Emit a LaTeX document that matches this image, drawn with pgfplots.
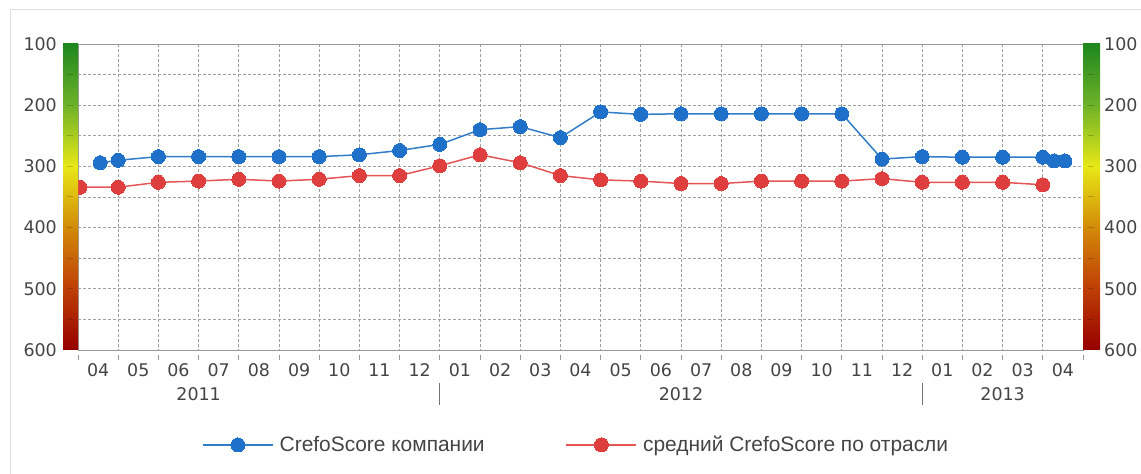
\documentclass[border=0pt]{standalone}
\usepackage{pgfplots}
\pgfplotsset{compat=1.18}
\usepackage{fontspec}
\setmainfont{Liberation Sans}
\newfontfamily\tickfont{DejaVu Sans}

\definecolor{txt}{RGB}{68,68,68}
\definecolor{blueS}{RGB}{30,112,200}
\definecolor{blueL}{RGB}{50,125,200}
\definecolor{redS}{RGB}{222,62,62}
\definecolor{redL}{RGB}{230,85,85}
\definecolor{c100}{RGB}{30,135,30}
\definecolor{c200}{RGB}{110,178,40}
\definecolor{c300}{RGB}{232,232,22}
\definecolor{c400}{RGB}{210,138,8}
\definecolor{c500}{RGB}{190,62,5}
\definecolor{c600}{RGB}{150,0,0}

% axis box: x 78..1083 bp, y 124..430 bp (from the bottom of the page)
\pgfplotsset{
  crefo/.style={
    at={(78bp,124bp)}, anchor=south west,
    scale only axis, width=1005bp, height=306bp,
    xmin=0, xmax=25, ymin=100, ymax=600, y dir=reverse,
    major tick length=0pt, minor tick length=0pt,
    tick label style={font=\tickfont\fontsize{17.5}{20}\selectfont, text=txt, inner sep=0pt},
    /pgf/number format/assume math mode=true,
  },
}

\begin{document}
\begin{tikzpicture}
\path[use as bounding box] (0,0) rectangle (1141bp,474bp);
\draw[gray!25, line width=1bp] (10bp,0) -- (10bp,464bp) -- (1141bp,464bp);

\begin{axis}[
  crefo, clip=false,
  axis line style={gray!80, line width=1bp},
  xtick={0.5,1.5,2.5,3.5,4.5,5.5,6.5,7.5,8.5,9.5,10.5,11.5,12.5,13.5,14.5,15.5,16.5,17.5,18.5,19.5,20.5,21.5,22.5,23.5,24.5},
  xticklabels={04,05,06,07,08,09,10,11,12,01,02,03,04,05,06,07,08,09,10,11,12,01,02,03,04},
  minor xtick={0,...,25},
  ytick={100,200,...,600},
  minor ytick={150,250,...,550},
  xminorgrids, ymajorgrids, yminorgrids,
  grid style={gray!75, dash pattern=on 3bp off 2bp, line width=0.7bp},
  xticklabel style={anchor=north, yshift=-13.5bp},
  yticklabel style={anchor=east, xshift=-21bp},
  extra x ticks={3,15,23},
  extra x tick labels={2011,2012,2013},
  extra x tick style={grid=none, xticklabel style={yshift=-23.5bp}},
  legend style={at={(axis description cs:0.1234,-0.31)}, anchor=west,
    draw=none, fill=none, legend columns=2, inner sep=0pt,
    font=\fontsize{21}{24}\selectfont, text=txt,
    nodes={inner sep=0pt},
    /tikz/every odd column/.append style={column sep=6bp},
    /tikz/every even column/.append style={column sep=81bp}},
  legend cell align=left,
  legend image code/.code={\draw[#1, mark repeat=2, mark phase=2]
    plot coordinates {(0bp,0bp) (35bp,0bp) (70bp,0bp)};},
]
% CrefoScore of the company
\addplot[color=blueL, line width=1.5bp, mark=*, mark size=7bp,
  mark options={fill=blueS, draw=blueS, line width=0bp}] coordinates {
  (0.55,294) (1,290) (2,284) (3,284) (4,284) (5,284) (6,284) (7,281)
  (8,274) (9,264) (10,240) (11,235) (12,253) (13,211) (14,215) (15,214)
  (16,214) (17,214) (18,214) (19,214) (20,288) (21,284) (22,285) (23,285)
  (24,285) (24.28,291) (24.55,291)
};
\addlegendentry{CrefoScore компании}
% industry average
\addplot[color=redL, line width=1.5bp, mark=*, mark size=7bp,
  mark options={fill=redS, draw=redS, line width=0bp}] coordinates {
  (0.05,334) (1,334) (2,326) (3,324) (4,321) (5,324) (6,321) (7,315)
  (8,315) (9,299) (10,281) (11,294) (12,315) (13,322) (14,324) (15,328)
  (16,328) (17,324) (18,324) (19,324) (20,320) (21,326) (22,326) (23,326)
  (24,330)
};
\addlegendentry{средний CrefoScore по отрасли}
\end{axis}

% right-hand scale labels
\begin{axis}[
  crefo,
  axis line style={draw=none},
  xtick=\empty,
  ytick={100,200,...,600},
  yticklabel pos=right,
  yticklabel style={anchor=west, xshift=21bp},
]
\end{axis}

% decorations: colour scales, month marks, year separators
\begin{scope}[x=1bp, y=1bp]
  \foreach \xa/\xb in {63/78, 1083/1100} {
    \shade[top color=c100, bottom color=c200] (\xa,430)   rectangle (\xb,368.8);
    \shade[top color=c200, bottom color=c300] (\xa,368.8) rectangle (\xb,307.6);
    \shade[top color=c300, bottom color=c400] (\xa,307.6) rectangle (\xb,246.4);
    \shade[top color=c400, bottom color=c500] (\xa,246.4) rectangle (\xb,185.2);
    \shade[top color=c500, bottom color=c600] (\xa,185.2) rectangle (\xb,124);
  }
  \foreach \v in {150,200,...,550} {
    \pgfmathsetmacro{\yy}{430-(\v-100)*0.612}
    \draw[black, opacity=0.18, line width=1bp] (67,\yy) -- (73,\yy);
    \draw[black, opacity=0.18, line width=1bp] (1088,\yy) -- (1094,\yy);
  }
  \foreach \k in {0,...,25} {
    \draw[gray!80, line width=0.8bp] (78+40.2*\k,119) -- (78+40.2*\k,114);
  }
  \draw[gray!90!black, line width=1.2bp] (439.8,91) -- (439.8,69);
  \draw[gray!90!black, line width=1.2bp] (922.2,91) -- (922.2,69);
\end{scope}
\end{tikzpicture}
\end{document}
